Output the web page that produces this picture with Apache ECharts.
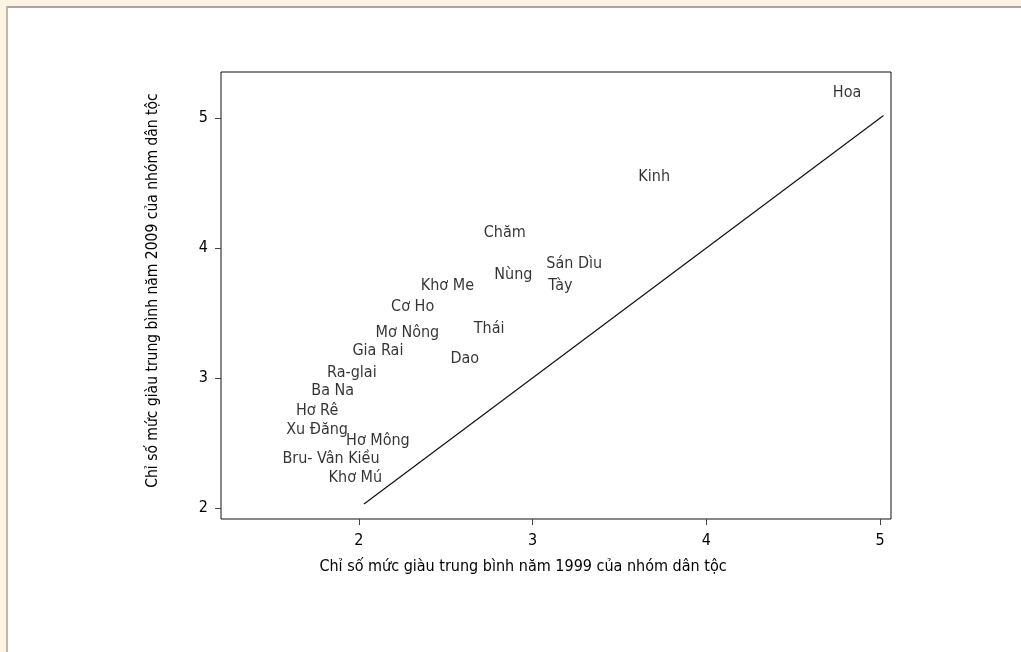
<!DOCTYPE html>
<html>
<head>
<meta charset="utf-8">
<script src="https://cdn.jsdelivr.net/npm/echarts@6/dist/echarts.min.js"></script>
<style>
  html, body { margin: 0; padding: 0; width: 1021px; height: 652px; overflow: hidden; background: #fdf3e2; }
  #panel { position: absolute; left: 6px; top: 6px; right: 0; bottom: 0; background: #ffffff; border-left: 2px solid #bdb8ae; border-top: 2px solid #aaa59c; }
  #chart { position: absolute; left: 0; top: 0; width: 1021px; height: 652px; }
</style>
</head>
<body>
<div id="panel"></div>
<div id="chart"></div>
<script>
// Ethnic group names
const groups = ['Hoa', 'Kinh', 'Chăm', 'Sán Dìu', 'Tày', 'Nùng', 'Khơ Me', 'Cơ Ho', 'Thái', 'Mơ Nông',
  'Gia Rai', 'Dao', 'Ra-glai', 'Ba Na', 'Hơ Rê', 'Xu Đăng', 'Hơ Mông', 'Bru- Vân Kiều', 'Khơ Mú'];
// Mean wealth index 1999 (x)
const wealth1999 = [4.81, 3.70, 2.84, 3.24, 3.16, 2.89, 2.51, 2.31, 2.75, 2.28,
  2.11, 2.61, 1.96, 1.85, 1.76, 1.76, 2.11, 1.84, 1.98];
// Mean wealth index 2009 (y)
const wealth2009 = [5.19, 4.55, 4.12, 3.88, 3.71, 3.79, 3.71, 3.55, 3.38, 3.35,
  3.21, 3.15, 3.04, 2.90, 2.75, 2.60, 2.52, 2.38, 2.23];
// 45-degree reference line endpoints
const refLineX = [2.03, 5.02];
const refLineY = [2.03, 5.02];
// Tick values
const xTicks = [2, 3, 4, 5];
const yTicks = [2, 3, 4, 5];

const FONT = "'DejaVu Sans Condensed', 'Roboto', sans-serif";
const chart = echarts.init(document.getElementById('chart'), null, { renderer: 'canvas' });
chart.setOption({
  backgroundColor: 'transparent',
  animation: false,
  grid: { left: 221, top: 72, right: 130, bottom: 133, show: true, borderColor: '#111', borderWidth: 1, backgroundColor: 'transparent' },
  xAxis: {
    type: 'value', min: 1.207, max: 5.063,
    name: 'Chỉ số mức giàu trung bình năm 1999 của nhóm dân tộc',
    nameLocation: 'middle', nameGap: 40,
    nameTextStyle: { fontFamily: FONT, fontSize: 16, color: '#000', padding: [0, 66, 0, 0] },
    axisLine: { show: false },
    splitLine: { show: false },
    axisTick: { show: true, length: 6, lineStyle: { color: '#444' }, customValues: xTicks },
    axisLabel: { fontFamily: FONT, fontSize: 16, color: '#000', margin: 14, customValues: xTicks }
  },
  yAxis: {
    type: 'value', min: 1.915, max: 5.354,
    name: 'Chỉ số mức giàu trung bình năm 2009 của nhóm dân tộc',
    nameLocation: 'middle', nameGap: 60,
    nameTextStyle: { fontFamily: FONT, fontSize: 15.5, color: '#000', padding: [0, 0, 0, 10] },
    axisLine: { show: false },
    splitLine: { show: false },
    axisTick: { show: true, length: 6, lineStyle: { color: '#444' }, customValues: yTicks },
    axisLabel: { fontFamily: FONT, fontSize: 16, color: '#000', margin: 13, customValues: yTicks }
  },
  series: [
    {
      type: 'line',
      data: refLineX.map((v, i) => [v, refLineY[i]]),
      symbol: 'none',
      lineStyle: { color: '#111', width: 1.2 },
      silent: true
    },
    {
      type: 'scatter',
      data: groups.map((g, i) => ({ name: g, value: [wealth1999[i], wealth2009[i]] })),
      symbolSize: 1,
      itemStyle: { color: 'transparent' },
      label: {
        show: true, position: 'inside', formatter: p => p.name,
        fontFamily: FONT, fontSize: 16, color: '#000'
      },
      emphasis: { disabled: true },
      silent: true
    }
  ]
});
</script>
</body>
</html>
